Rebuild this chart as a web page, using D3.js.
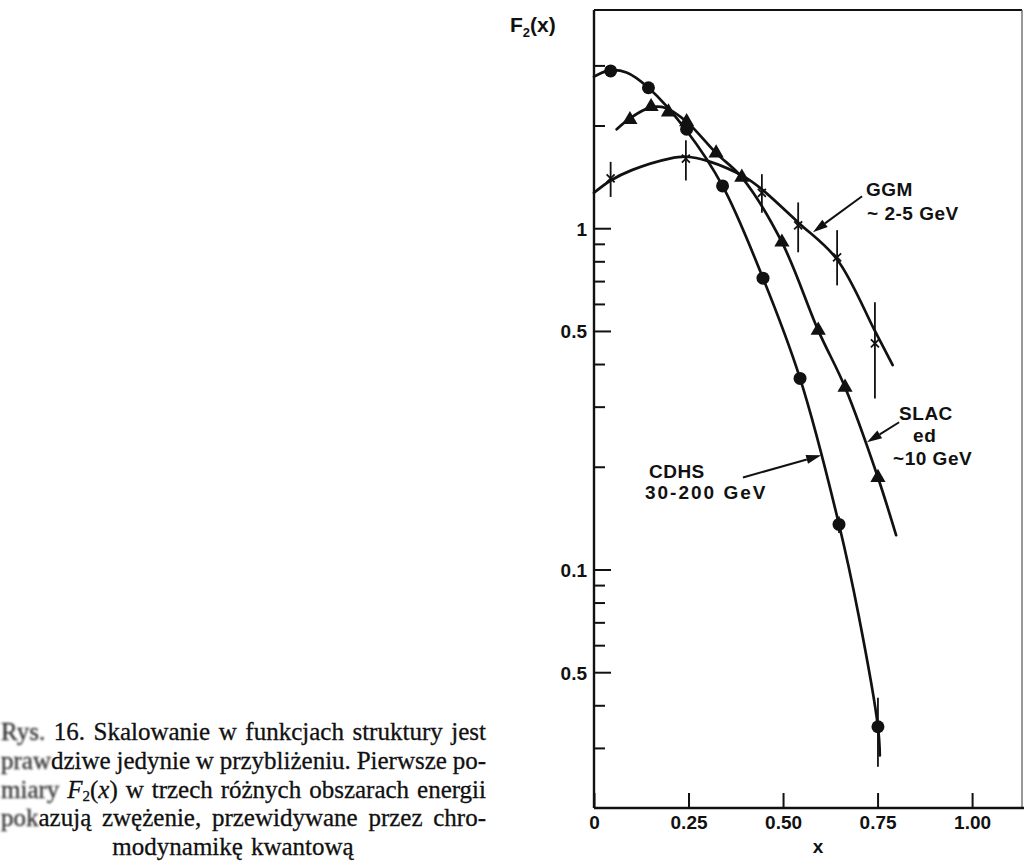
<!DOCTYPE html>
<html>
<head>
<meta charset="utf-8">
<script src="https://cdn.jsdelivr.net/npm/d3@7"></script>
<style>
  html, body { margin: 0; padding: 0; background: #fff; }
  svg { display: block; }
</style>
</head>
<body>
<svg id="chart" width="1024" height="861"></svg>
<script>
// ---- Measured points ------------------------------------------------------
// CDHS, 30-200 GeV (filled circles)
const cdhsX  = [0.044, 0.144, 0.245, 0.340, 0.447, 0.545, 0.648, 0.751];
const cdhsY  = [2.89, 2.58, 1.95, 1.33, 0.714, 0.363, 0.1355, 0.0346];
const cdhsLo = [null, null, null, null, null, null, 0.128, 0.0264];
const cdhsHi = [null, null, null, null, null, null, 0.143, 0.0421];

// SLAC ed, ~10 GeV (filled triangles)
const slacX = [0.095, 0.151, 0.197, 0.245, 0.323, 0.391, 0.497, 0.593, 0.664, 0.751];
const slacY = [2.08, 2.27, 2.19, 2.05, 1.66, 1.41, 0.91, 0.502, 0.342, 0.186];

// GGM, ~2-5 GeV (crosses with error bars)
const ggmX  = [0.044, 0.243, 0.444, 0.540, 0.643, 0.743];
const ggmY  = [1.40, 1.60, 1.27, 1.02, 0.822, 0.46];
const ggmLo = [1.235, 1.38, 1.11, 0.85, 0.68, 0.317];
const ggmHi = [1.565, 1.81, 1.44, 1.19, 0.987, 0.607];

// ---- Smooth fitted curves -------------------------------------------------
const cdhsFitX = [0, 0.04, 0.086, 0.144, 0.245, 0.34, 0.447, 0.545, 0.648, 0.70, 0.751, 0.756];
const cdhsFitY = [2.78, 2.9, 2.86, 2.58, 1.93, 1.33, 0.714, 0.363, 0.1355, 0.0733, 0.0346, 0.0285];

const slacFitX = [0.06, 0.095, 0.15, 0.19, 0.245, 0.323, 0.391, 0.497, 0.593, 0.664, 0.751, 0.799];
const slacFitY = [1.95, 2.1, 2.26, 2.25, 2.05, 1.66, 1.41, 0.91, 0.502, 0.342, 0.186, 0.126];

const ggmFitX = [0, 0.044, 0.1, 0.2, 0.245, 0.3, 0.4, 0.444, 0.54, 0.643, 0.743, 0.79];
const ggmFitY = [1.27, 1.38, 1.48, 1.6, 1.62, 1.575, 1.41, 1.3, 1.04, 0.81, 0.5, 0.397];

// ---- Axes ticks -----------------------------------------------------------
const yMajorTicks  = [1, 0.5, 0.1, 0.05];
const yMajorLabels = ["1", "0.5", "0.1", "0.5"];
const yMinorTicks  = [3, 2, 0.9, 0.8, 0.7, 0.6, 0.4, 0.3, 0.2, 0.09, 0.08, 0.07, 0.06, 0.04, 0.03];
const xTicks       = [0, 0.25, 0.5, 0.75, 1.0];
const xTickLabels  = ["0", "0.25", "0.50", "0.75", "1.00"];

// ---- Caption --------------------------------------------------------------
const captionLines = [
  "Rys. 16. Skalowanie w funkcjach struktury jest",
  "prawdziwe jedynie w przybliżeniu. Pierwsze po-",
  "miary F_2(x) w trzech różnych obszarach energii",
  "pokazują zwężenie, przewidywane przez chro-",
  "modynamikę kwantową"
];
// leading letters of each line that are smudged in print
const smudgedPrefix = ["Rys.", "praw", "miary", "pok", ""];

// ===========================================================================
const svg = d3.select("#chart");
const SANS = "'Liberation Sans', Arial, sans-serif";
const SERIF = "'Liberation Serif', 'Times New Roman', serif";

const x = d3.scaleLinear().domain([0, 1.132]).range([594, 1022]);
const y = d3.scaleLog().domain([0.02, 4.36]).range([808, 10]);

const defs = svg.append("defs");
defs.append("filter").attr("id", "smudge").attr("x", "-20%").attr("y", "-50%")
  .attr("width", "140%").attr("height", "200%")
  .append("feGaussianBlur").attr("stdDeviation", 1.3);

const plot = svg.append("g");

// frame (top and right edges)
plot.append("line")
  .attr("x1", x(0)).attr("x2", x(1.132)).attr("y1", y(4.36)).attr("y2", y(4.36))
  .attr("stroke", "#111").attr("stroke-width", 2);
plot.append("line")
  .attr("x1", x(1.132)).attr("x2", x(1.132)).attr("y1", y(4.36)).attr("y2", y(0.02))
  .attr("stroke", "#555").attr("stroke-width", 1.2);

// y axis: minor ticks, then labelled major ticks
const yMinorAxis = d3.axisLeft(y).tickValues(yMinorTicks).tickSize(-11).tickFormat("");
const yMinorG = plot.append("g").attr("transform", `translate(${x(0)},0)`).call(yMinorAxis);
yMinorG.select(".domain").remove();

const yMajorAxis = d3.axisLeft(y).tickValues(yMajorTicks).tickSize(-17).tickPadding(7)
  .tickFormat((d, i) => yMajorLabels[i]);
const yMajorG = plot.append("g").attr("transform", `translate(${x(0)},0)`).call(yMajorAxis);
yMajorG.select(".domain").attr("d", `M0,${y(4.36)}V${y(0.02)}`);

// x axis with inward ticks
const xAxis = d3.axisBottom(x).tickValues(xTicks).tickSize(-15).tickPadding(8)
  .tickFormat((d, i) => xTickLabels[i]);
const xG = plot.append("g").attr("transform", `translate(0,${y(0.02)})`).call(xAxis);
xG.select(".domain").attr("d", `M${x(0)},0H1024`);

[yMinorG, yMajorG, xG].forEach(g => {
  g.selectAll("line").attr("stroke", "#111").attr("stroke-width", 2);
  g.selectAll(".domain").attr("stroke", "#111").attr("stroke-width", 2.4);
  g.selectAll("text").attr("fill", "#111")
    .style("font-family", SANS).style("font-size", "19px").style("font-weight", "bold");
});
yMajorG.selectAll("text").attr("dy", "0.36em");

// axis titles
const yTitle = plot.append("text").attr("x", 510).attr("y", 32)
  .style("font-family", SANS).style("font-weight", "bold").style("font-size", "21px").attr("fill", "#111");
yTitle.append("tspan").text("F");
yTitle.append("tspan").text("2").style("font-size", "13px").attr("dy", 5);
yTitle.append("tspan").text("(x)").attr("dy", -5);

plot.append("text").attr("x", 818).attr("y", 853).attr("text-anchor", "middle")
  .style("font-family", SANS).style("font-weight", "bold").style("font-size", "19px")
  .attr("fill", "#111").text("x");

// ---- curves ---------------------------------------------------------------
const line = d3.line().x(d => x(d[0])).y(d => y(d[1])).curve(d3.curveCatmullRom.alpha(0.5));
[[cdhsFitX, cdhsFitY], [slacFitX, slacFitY], [ggmFitX, ggmFitY]].forEach(([xs, ys]) => {
  plot.append("path")
    .attr("d", line(xs.map((v, i) => [v, ys[i]])))
    .attr("fill", "none").attr("stroke", "#111").attr("stroke-width", 2.7)
    .attr("stroke-linejoin", "round").attr("stroke-linecap", "round");
});

// ---- error bars -----------------------------------------------------------
function errorBars(xs, lo, hi) {
  const rows = xs.map((v, i) => ({ x: v, lo: lo[i], hi: hi[i] })).filter(d => d.lo != null);
  plot.append("g").selectAll("line").data(rows).join("line")
    .attr("x1", d => x(d.x)).attr("x2", d => x(d.x))
    .attr("y1", d => y(d.hi)).attr("y2", d => y(d.lo))
    .attr("stroke", "#111").attr("stroke-width", 1.8);
}
errorBars(ggmX, ggmLo, ggmHi);
errorBars(cdhsX, cdhsLo, cdhsHi);

// ---- markers --------------------------------------------------------------
plot.append("g").selectAll("circle").data(cdhsX.map((v, i) => [v, cdhsY[i]])).join("circle")
  .attr("cx", d => x(d[0])).attr("cy", d => y(d[1])).attr("r", 6.5).attr("fill", "#111");

const tri = d3.symbol().type(d3.symbolTriangle).size(100);
plot.append("g").selectAll("path").data(slacX.map((v, i) => [v, slacY[i]])).join("path")
  .attr("d", tri).attr("transform", d => `translate(${x(d[0])},${y(d[1])})`).attr("fill", "#111");

const cross = 4;
plot.append("g").selectAll("path").data(ggmX.map((v, i) => [v, ggmY[i]])).join("path")
  .attr("d", d => {
    const cx = x(d[0]), cy = y(d[1]);
    return `M${cx - cross},${cy - cross}L${cx + cross},${cy + cross}M${cx - cross},${cy + cross}L${cx + cross},${cy - cross}`;
  })
  .attr("stroke", "#111").attr("stroke-width", 1.8).attr("fill", "none");

// ---- annotations with arrows ----------------------------------------------
const annotations = [
  { tail: [0.709, 1.241], tip: [0.579, 0.973],
    lines: [{ t: "GGM", dx: 4, dy: 0 }, { t: "~ 2-5 GeV", dx: 5, dy: 24 }] },
  { tail: [0.807, 0.270], tip: [0.722, 0.236],
    lines: [{ t: "SLAC", dx: 0, dy: -2 }, { t: "ed", dx: 14, dy: 20 }, { t: "~10 GeV", dx: -6, dy: 43 }] },
  { tail: [0.394, 0.186], tip: [0.601, 0.216],
    lines: [{ t: "CDHS", dx: -94, dy: 0 }, { t: "30-200 GeV", dx: -98, dy: 21, ls: 2 }] }
];

annotations.forEach(a => {
  const x0 = x(a.tail[0]), y0 = y(a.tail[1]);
  const x1 = x(a.tip[0]), y1 = y(a.tip[1]);
  const ang = Math.atan2(y1 - y0, x1 - x0);
  const L = 15, W = 4.5;
  const bx = x1 - L * Math.cos(ang), by = y1 - L * Math.sin(ang);
  plot.append("line").attr("x1", x0).attr("y1", y0).attr("x2", bx).attr("y2", by)
    .attr("stroke", "#111").attr("stroke-width", 2);
  const px = -Math.sin(ang) * W, py = Math.cos(ang) * W;
  plot.append("path")
    .attr("d", `M${x1},${y1}L${bx + px},${by + py}L${bx - px},${by - py}Z`)
    .attr("fill", "#111");
  a.lines.forEach(l => {
    plot.append("text").attr("x", x0 + l.dx).attr("y", y0 + l.dy)
      .style("font-family", SANS).style("font-weight", "bold").style("font-size", "19px")
      .style("letter-spacing", (l.ls || 0.5) + "px")
      .attr("fill", "#111").text(l.t);
  });
});

// ---- caption (justified serif text) ---------------------------------------
const capLeft = 1, capRight = 486, capCenter = 233;
const capBase = [740, 768.75, 797.5, 826.25, 855];

function serifText(g, str) {
  return g.append("text").attr("y", 0)
    .style("font-family", SERIF).style("font-size", "25px")
    .attr("fill", "#111").attr("stroke", "#111").attr("stroke-width", 0.3)
    .text(str);
}

// one word as a group; returns the group and its advance width
function wordGroup(g, w, prefix) {
  const wg = g.append("g");
  let width = 0;
  if (w === "F_2(x)") {
    const t = serifText(wg, null);
    t.append("tspan").text("F").style("font-style", "italic");
    t.append("tspan").text("2").style("font-size", "15px").attr("dy", 3);
    t.append("tspan").text("(").attr("dy", -3);
    t.append("tspan").text("x").style("font-style", "italic");
    t.append("tspan").text(")");
    width = t.node().getComputedTextLength();
  } else if (prefix && w.startsWith(prefix)) {
    const soft = serifText(wg, prefix)
      .attr("filter", "url(#smudge)").attr("fill", "#333").attr("stroke", "#333");
    const pw = soft.node().getComputedTextLength();
    const rest = w.slice(prefix.length);
    let rw = 0;
    if (rest) {
      const r = serifText(wg, rest).attr("x", pw);
      rw = r.node().getComputedTextLength();
    }
    width = pw + rw;
  } else {
    width = serifText(wg, w).node().getComputedTextLength();
  }
  return { g: wg, width };
}

const caption = svg.append("g");
captionLines.forEach((ln, li) => {
  const g = caption.append("g").attr("transform", `translate(0,${capBase[li]})`);
  const words = ln.split(" ");
  const items = words.map((w, i) => wordGroup(g, w, i === 0 ? smudgedPrefix[li] : ""));
  const total = d3.sum(items, d => d.width);
  let cx, gap;
  if (li === captionLines.length - 1) {
    gap = 8;
    cx = capCenter - (total + gap * (words.length - 1)) / 2;
  } else {
    gap = (capRight - capLeft - total) / (words.length - 1);
    cx = capLeft;
  }
  items.forEach(it => { it.g.attr("transform", `translate(${cx},0)`); cx += it.width + gap; });
});
</script>
</body>
</html>
